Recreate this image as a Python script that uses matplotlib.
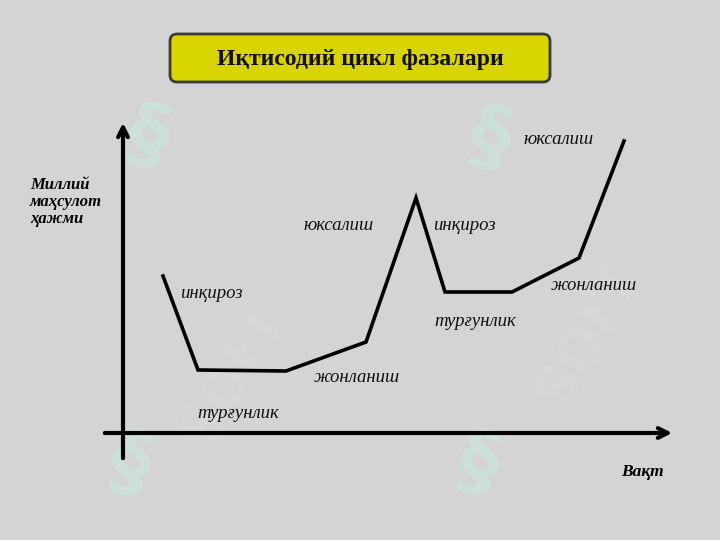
import matplotlib.pyplot as plt
from matplotlib.patches import FancyBboxPatch

# точки кривой (в координатах картинки)
x_ = [163, 198, 286, 366, 416, 445, 512, 579, 624]
y_ = [276, 370, 371, 342, 198, 292, 292, 258, 141]

phases = ['инқироз', 'турғунлик', 'жонланиш', 'юксалиш',
          'инқироз', 'турғунлик', 'жонланиш', 'юксалиш']
phase_x = [211, 238, 357, 339, 464, 475, 594, 559]
phase_y = [293, 414, 377, 226, 225, 321, 286, 140]

title = 'Иқтисодий цикл фазалари'
ylabel = 'Миллий\nмаҳсулот\nҳажми'
xlabel = 'Вақт'

bg = '#d4d4d4'
fig = plt.figure(figsize=(7.2, 5.4), dpi=100)
fig.patch.set_facecolor(bg)
ax = fig.add_axes([0, 0, 1, 1])
ax.set_xlim(0, 720)
ax.set_ylim(540, 0)
ax.axis('off')
ax.set_facecolor(bg)

# водяные знаки (бледные)
for wx, wy in [(148, 138), (490, 140), (130, 465), (478, 465)]:
    ax.text(wx, wy, '§', ha='center', va='center', fontsize=58, fontweight='bold',
            rotation=-15, color='#c8ecdd', alpha=0.55, zorder=1)
for wx, wy in [(235, 370), (590, 330)]:
    ax.text(wx, wy, 'SOFF', ha='center', va='center', fontsize=40, fontweight='bold',
            rotation=60, color='white', alpha=0.08, zorder=1)

# заголовок
box = FancyBboxPatch((170, 34), 380, 48, boxstyle='round,pad=0,rounding_size=7',
                     fc='#d8d400', ec='#3a3a3a', lw=2, zorder=3)
ax.add_patch(box)
ax.text(360, 59, title, ha='center', va='center', fontsize=17, fontweight='bold',
        family='Liberation Serif', color='#111111', zorder=4)

# оси
ax.annotate('', xy=(123, 120), xytext=(123, 461),
            arrowprops=dict(arrowstyle='->,head_length=0.7,head_width=0.35', lw=3, color='black'))
ax.annotate('', xy=(675, 433), xytext=(102, 433),
            arrowprops=dict(arrowstyle='->,head_length=0.7,head_width=0.35', lw=3, color='black'))

ax.plot(x_, y_, color='black', lw=2.6, solid_joinstyle='miter', zorder=5)

for t, px, py in zip(phases, phase_x, phase_y):
    ax.text(px, py, t, ha='center', va='center', fontsize=13.5, style='italic',
            family='Liberation Serif', color='#111111')

ax.text(30, 202, ylabel, ha='left', va='center', fontsize=12, style='italic',
        fontweight='bold', family='Liberation Serif', linespacing=1.05)
ax.text(642, 472, xlabel, ha='center', va='center', fontsize=12.5, style='italic',
        fontweight='bold', family='Liberation Serif')

plt.savefig('out.png', dpi=100, facecolor=bg)
